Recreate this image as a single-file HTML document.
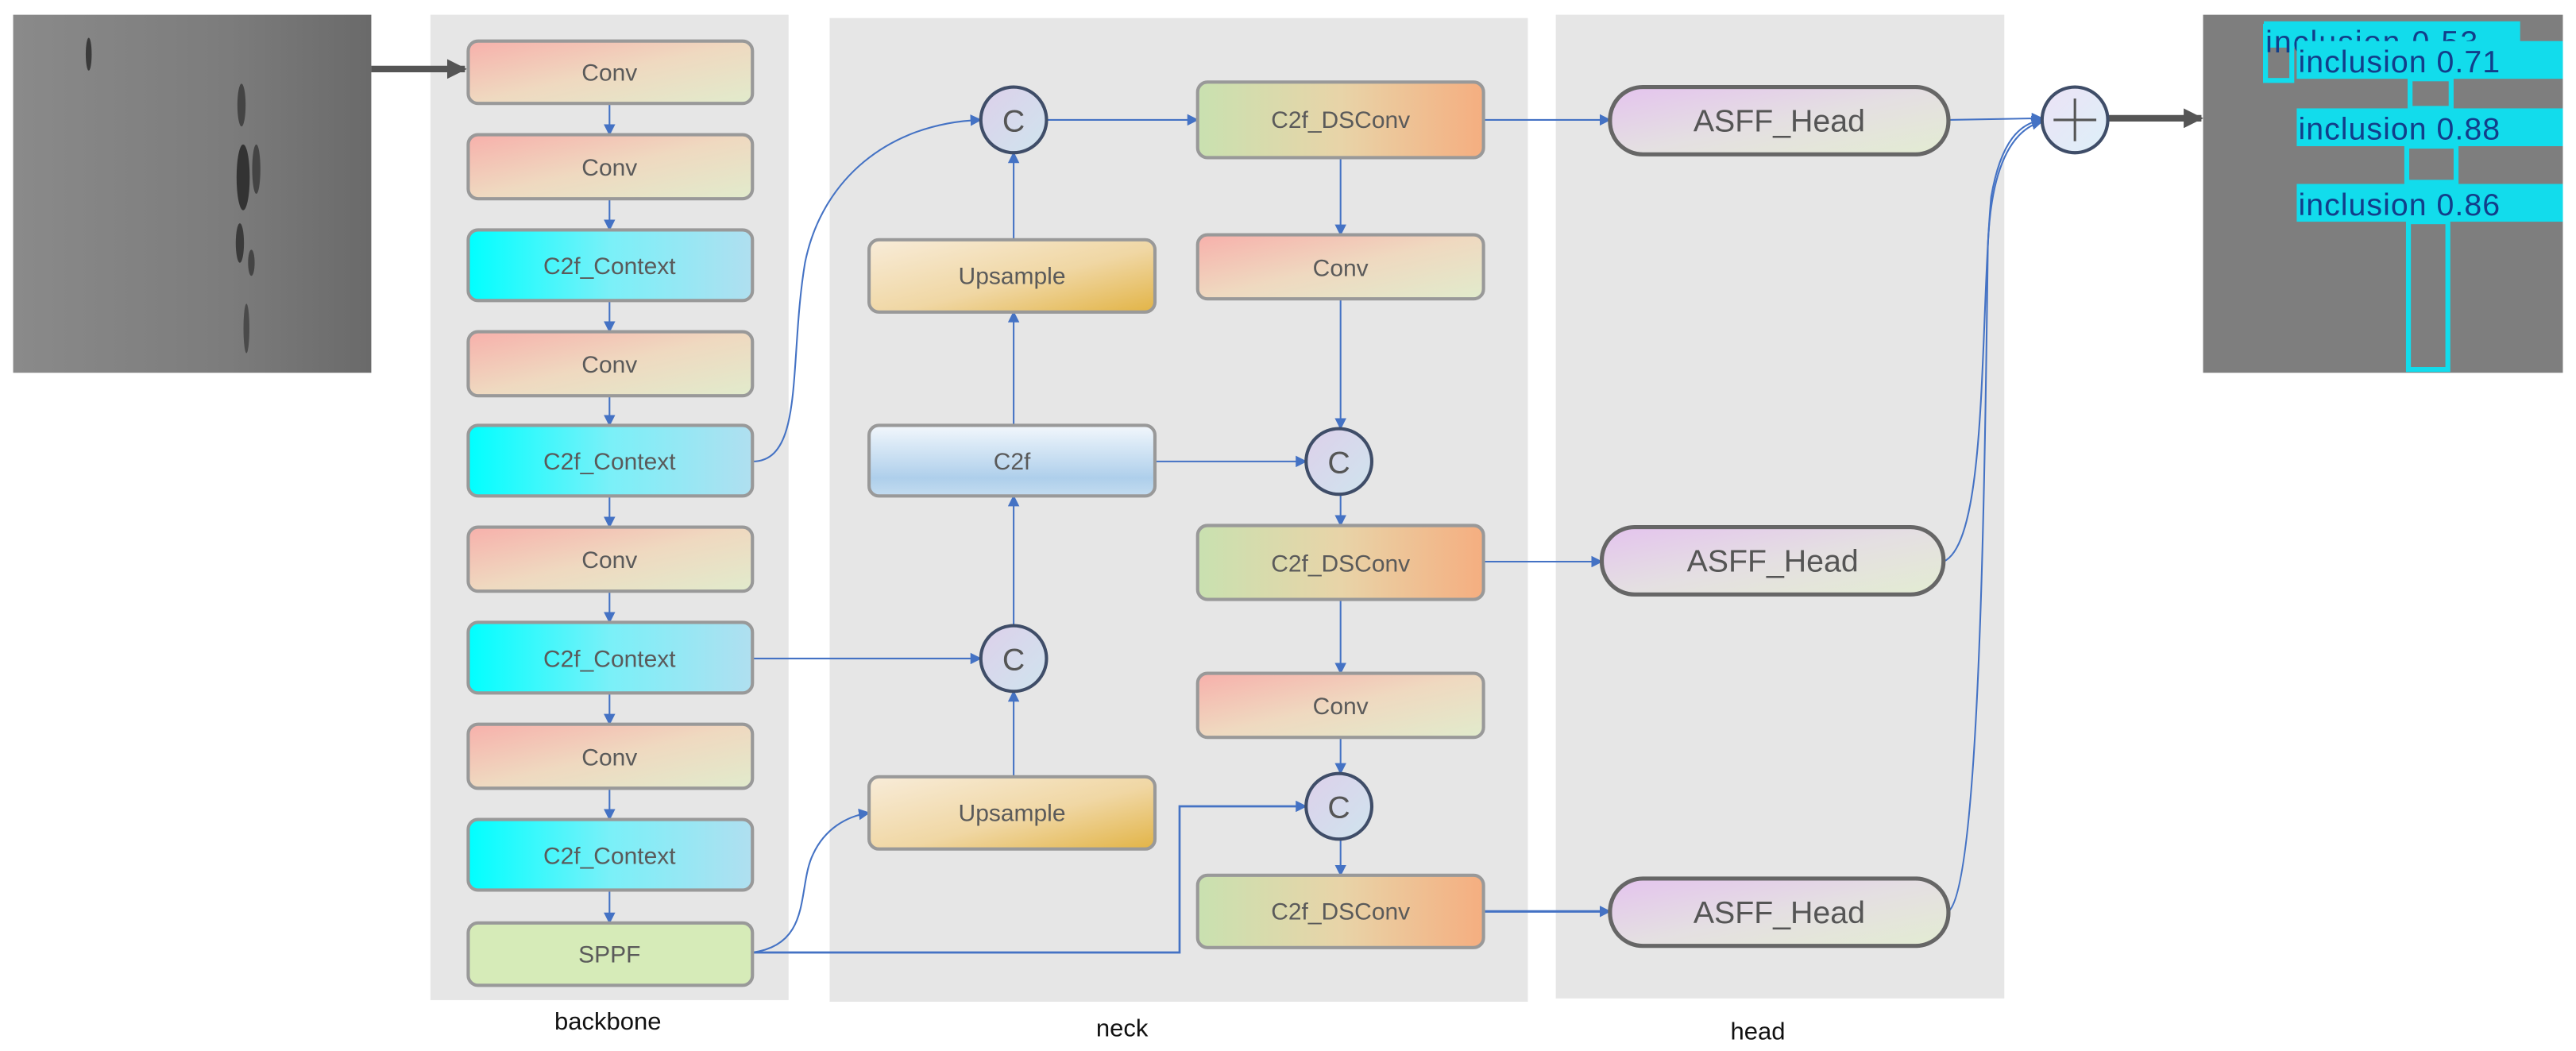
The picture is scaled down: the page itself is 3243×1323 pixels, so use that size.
<!DOCTYPE html>
<html><head><meta charset="utf-8"><style>
html,body{margin:0;padding:0;background:#fff;}
svg{display:block;}
text{font-family:"Liberation Sans",sans-serif;}
</style></head><body>
<svg width="3243" height="1323" viewBox="0 0 1568 640" preserveAspectRatio="none" xmlns="http://www.w3.org/2000/svg">
<defs>
<linearGradient id="gConv" x1="0" y1="0" x2="1" y2="1"><stop offset="0" stop-color="#f7b0ab"/><stop offset="0.5" stop-color="#efd9c0"/><stop offset="1" stop-color="#e1ebcc"/></linearGradient>
<linearGradient id="gCtx" x1="0" y1="0" x2="1" y2="0"><stop offset="0" stop-color="#00ffff"/><stop offset="0.5" stop-color="#7af0f8"/><stop offset="1" stop-color="#b0dff0"/></linearGradient>
<linearGradient id="gDS" x1="0" y1="0" x2="1" y2="0"><stop offset="0" stop-color="#c9e1b0"/><stop offset="0.5" stop-color="#e8d4a8"/><stop offset="1" stop-color="#f5ae80"/></linearGradient>
<linearGradient id="gUp" x1="0" y1="0" x2="1" y2="1"><stop offset="0" stop-color="#f8ecd9"/><stop offset="0.55" stop-color="#f0d7a4"/><stop offset="1" stop-color="#e2b446"/></linearGradient>
<linearGradient id="gC2f" x1="0" y1="0" x2="0" y2="1"><stop offset="0" stop-color="#f2f7fc"/><stop offset="0.75" stop-color="#aecfeb"/><stop offset="1" stop-color="#c4dcf0"/></linearGradient>
<linearGradient id="gHead" x1="0" y1="0" x2="1" y2="1"><stop offset="0" stop-color="#e4c3ee"/><stop offset="0.5" stop-color="#e4dfe2"/><stop offset="1" stop-color="#e3ecd2"/></linearGradient>
<linearGradient id="gCirc" x1="0" y1="0" x2="1" y2="1"><stop offset="0" stop-color="#ddd0ea"/><stop offset="1" stop-color="#cfe4ee"/></linearGradient>
<linearGradient id="gPlus" x1="0" y1="0" x2="1" y2="1"><stop offset="0" stop-color="#ece2f6"/><stop offset="1" stop-color="#ddf0f8"/></linearGradient>
<linearGradient id="gImg" x1="0" y1="0" x2="1" y2="0"><stop offset="0" stop-color="#8a8a8a"/><stop offset="0.6" stop-color="#7c7c7c"/><stop offset="1" stop-color="#6a6a6a"/></linearGradient>
<marker id="ah" viewBox="0 0 10 10" refX="9" refY="5" markerWidth="7" markerHeight="7" markerUnits="userSpaceOnUse" orient="auto"><path d="M0,0L10,5L0,10z" fill="#4472c4"/></marker>
<marker id="ahb" viewBox="0 0 10 10" refX="9" refY="5" markerWidth="12" markerHeight="12" markerUnits="userSpaceOnUse" orient="auto"><path d="M0,0L10,5L0,10z" fill="#555"/></marker>
</defs>

<rect x="262" y="9" width="218" height="600" fill="#e6e6e6"/>
<rect x="505" y="11" width="425" height="599" fill="#e6e6e6"/>
<rect x="947" y="9" width="273" height="599" fill="#e6e6e6"/>
<text x="370" y="627" font-size="15" text-anchor="middle" fill="#111">backbone</text>
<text x="683" y="631" font-size="15" text-anchor="middle" fill="#111">neck</text>
<text x="1070" y="633" font-size="15" text-anchor="middle" fill="#111">head</text>

<rect x="8" y="9" width="218" height="218" fill="url(#gImg)"/>
<ellipse cx="54" cy="33" rx="1.8" ry="10" fill="#3a3a3a"/>
<ellipse cx="147" cy="64" rx="2.5" ry="13" fill="#444"/>
<ellipse cx="148" cy="108" rx="4" ry="20" fill="#333"/>
<ellipse cx="156" cy="103" rx="2.5" ry="15" fill="#444"/>
<ellipse cx="146" cy="148" rx="2.5" ry="12" fill="#3a3a3a"/>
<ellipse cx="153" cy="160" rx="2" ry="8" fill="#444"/>
<ellipse cx="150" cy="200" rx="1.8" ry="15" fill="#4a4a4a"/>
<line x1="226" y1="42" x2="283" y2="42" stroke="#555" stroke-width="4" marker-end="url(#ahb)"/>

<rect x="1341" y="9" width="219" height="218" fill="#7e7e7e"/>
<g fill="none" stroke="#12dcec" stroke-width="3">
<rect x="1379" y="16" width="16" height="33"/>
<rect x="1467" y="48" width="25" height="18"/>
<rect x="1465" y="89" width="30" height="22"/>
<rect x="1466" y="135" width="24" height="90"/>
</g>
<g fill="#12dcec">
<rect x="1378" y="13" width="156" height="16"/>
</g>
<text x="1379" y="32" font-family="DejaVu Sans" font-size="19" fill="#123e8a" letter-spacing="1">inclusion 0.53</text>
<g fill="#12dcec">
<rect x="1398" y="25" width="162" height="23"/>
<rect x="1398" y="66" width="162" height="23"/>
<rect x="1398" y="112" width="162" height="23"/>
</g>
<g fill="#123e8a" font-size="19" font-family="DejaVu Sans" letter-spacing="0.5">
<text x="1399" y="44">inclusion 0.71</text>
<text x="1399" y="85">inclusion 0.88</text>
<text x="1399" y="131">inclusion 0.86</text>
</g>
<line x1="1283" y1="72" x2="1340" y2="72" stroke="#555" stroke-width="4" marker-end="url(#ahb)"/>

<g fill="none" stroke="#4472c4" stroke-width="1">
<line x1="371" y1="63" x2="371" y2="82" marker-end="url(#ah)"/>
<line x1="371" y1="121" x2="371" y2="140" marker-end="url(#ah)"/>
<line x1="371" y1="183" x2="371" y2="202" marker-end="url(#ah)"/>
<line x1="371" y1="241" x2="371" y2="259" marker-end="url(#ah)"/>
<line x1="371" y1="302" x2="371" y2="321" marker-end="url(#ah)"/>
<line x1="371" y1="360" x2="371" y2="379" marker-end="url(#ah)"/>
<line x1="371" y1="422" x2="371" y2="441" marker-end="url(#ah)"/>
<line x1="371" y1="480" x2="371" y2="499" marker-end="url(#ah)"/>
<line x1="371" y1="542" x2="371" y2="562" marker-end="url(#ah)"/>
<path d="M458,281 C490,281 480,220 490,160 C500,110 540,75 597,73" marker-end="url(#ah)"/>
<line x1="637" y1="73" x2="729" y2="73" marker-end="url(#ah)"/>
<line x1="617" y1="146" x2="617" y2="93" marker-end="url(#ah)"/>
<line x1="617" y1="259" x2="617" y2="190" marker-end="url(#ah)"/>
<line x1="617" y1="381" x2="617" y2="302" marker-end="url(#ah)"/>
<line x1="617" y1="473" x2="617" y2="421" marker-end="url(#ah)"/>
<line x1="458" y1="401" x2="597" y2="401" marker-end="url(#ah)"/>
<path d="M458,580 C495,575 485,540 495,520 C502,505 515,497 529,495" marker-end="url(#ah)"/>
<path d="M458,580 L718,580 L718,491 L795,491" stroke-width="1.3" marker-end="url(#ah)"/>
<line x1="816" y1="96" x2="816" y2="143" marker-end="url(#ah)"/>
<line x1="816" y1="182" x2="816" y2="261" marker-end="url(#ah)"/>
<line x1="703" y1="281" x2="795" y2="281" marker-end="url(#ah)"/>
<line x1="816" y1="301" x2="816" y2="320" marker-end="url(#ah)"/>
<line x1="816" y1="365" x2="816" y2="410" marker-end="url(#ah)"/>
<line x1="816" y1="449" x2="816" y2="471" marker-end="url(#ah)"/>
<line x1="816" y1="511" x2="816" y2="533" marker-end="url(#ah)"/>
<line x1="903" y1="73" x2="980" y2="73" marker-end="url(#ah)"/>
<line x1="903" y1="342" x2="975" y2="342" marker-end="url(#ah)"/>
<line x1="903" y1="555" x2="980" y2="555" stroke-width="1.5" marker-end="url(#ah)"/>
<path d="M1186,73 L1243,72" marker-end="url(#ah)"/>
<path d="M1183,342 C1210,330 1205,200 1212,120 C1218,85 1230,75 1243,73" marker-end="url(#ah)"/>
<path d="M1186,555 C1205,540 1208,300 1210,150 C1212,95 1228,78 1243,74" marker-end="url(#ah)"/>
</g>

<g stroke="#999" stroke-width="2">
<rect x="285" y="25" width="173" height="38" rx="6" fill="url(#gConv)"/>
<rect x="285" y="82" width="173" height="39" rx="6" fill="url(#gConv)"/>
<rect x="285" y="140" width="173" height="43" rx="6" fill="url(#gCtx)"/>
<rect x="285" y="202" width="173" height="39" rx="6" fill="url(#gConv)"/>
<rect x="285" y="259" width="173" height="43" rx="6" fill="url(#gCtx)"/>
<rect x="285" y="321" width="173" height="39" rx="6" fill="url(#gConv)"/>
<rect x="285" y="379" width="173" height="43" rx="6" fill="url(#gCtx)"/>
<rect x="285" y="441" width="173" height="39" rx="6" fill="url(#gConv)"/>
<rect x="285" y="499" width="173" height="43" rx="6" fill="url(#gCtx)"/>
<rect x="285" y="562" width="173" height="38" rx="6" fill="#d6ebb8"/>
<rect x="729" y="50" width="174" height="46" rx="6" fill="url(#gDS)"/>
<rect x="529" y="146" width="174" height="44" rx="6" fill="url(#gUp)"/>
<rect x="729" y="143" width="174" height="39" rx="6" fill="url(#gConv)"/>
<rect x="529" y="259" width="174" height="43" rx="6" fill="url(#gC2f)"/>
<rect x="729" y="320" width="174" height="45" rx="6" fill="url(#gDS)"/>
<rect x="729" y="410" width="174" height="39" rx="6" fill="url(#gConv)"/>
<rect x="529" y="473" width="174" height="44" rx="6" fill="url(#gUp)"/>
<rect x="729" y="533" width="174" height="44" rx="6" fill="url(#gDS)"/>
</g>
<g stroke="#666" stroke-width="2.5">
<rect x="980" y="53" width="206" height="41" rx="20" fill="url(#gHead)"/>
<rect x="975" y="321" width="208" height="41" rx="20" fill="url(#gHead)"/>
<rect x="980" y="535" width="206" height="41" rx="20" fill="url(#gHead)"/>
</g>
<g stroke="#3f4d68" stroke-width="2" fill="url(#gCirc)">
<circle cx="617" cy="73" r="20"/>
<circle cx="815" cy="281" r="20"/>
<circle cx="617" cy="401" r="20"/>
<circle cx="815" cy="491" r="20"/>
</g>
<circle cx="1263" cy="73" r="20" stroke="#3f4d68" stroke-width="2" fill="url(#gPlus)"/>
<path d="M1250,73H1276M1263,60V86" stroke="#555" stroke-width="1.5"/>

<g font-size="14.5" text-anchor="middle" fill="#5a5a5a">
<text x="371" y="49">Conv</text>
<text x="371" y="107">Conv</text>
<text x="371" y="167">C2f_Context</text>
<text x="371" y="227">Conv</text>
<text x="371" y="286">C2f_Context</text>
<text x="371" y="346">Conv</text>
<text x="371" y="406">C2f_Context</text>
<text x="371" y="466">Conv</text>
<text x="371" y="526">C2f_Context</text>
<text x="371" y="586">SPPF</text>
<text x="816" y="78">C2f_DSConv</text>
<text x="616" y="173">Upsample</text>
<text x="816" y="168">Conv</text>
<text x="616" y="286">C2f</text>
<text x="816" y="348">C2f_DSConv</text>
<text x="816" y="435">Conv</text>
<text x="616" y="500">Upsample</text>
<text x="816" y="560">C2f_DSConv</text>
</g>
<g font-size="19" text-anchor="middle" fill="#555">
<text x="1083" y="80">ASFF_Head</text>
<text x="1079" y="348">ASFF_Head</text>
<text x="1083" y="562">ASFF_Head</text>
<text x="617" y="80">C</text>
<text x="815" y="288">C</text>
<text x="617" y="408">C</text>
<text x="815" y="498">C</text>
</g>
</svg>
</body></html>
